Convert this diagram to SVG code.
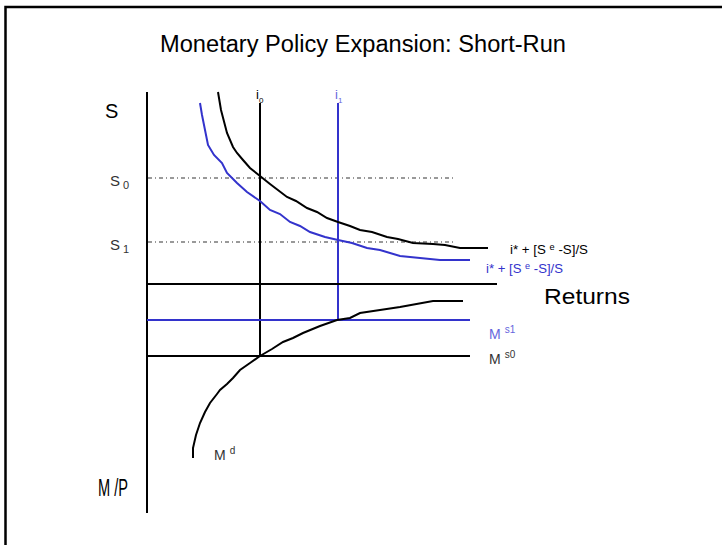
<svg xmlns="http://www.w3.org/2000/svg" width="722" height="545" viewBox="0 0 722 545">
<style>
text{font-family:"Liberation Sans",Arial,sans-serif}
.k{stroke:#000;stroke-width:2;fill:none}
.b{stroke:#3333cc;stroke-width:2;fill:none}
.d{stroke:#000;stroke-width:1;stroke-dasharray:4 3 1 3;fill:none;opacity:0.8}
.bt{fill:#3333cc}
.gt{fill:#333}
.bl{fill:#6666dd}
</style>
<rect x="0" y="0" width="722" height="545" fill="#fff"/>
<path d="M5.5 545 V7 H722" stroke="#000" stroke-width="2.5" fill="none"/>
<text x="363" y="52" font-size="23" text-anchor="middle" textLength="406" lengthAdjust="spacingAndGlyphs">Monetary Policy Expansion: Short-Run</text>
<g id="axes">
<line class="k" x1="147" y1="92" x2="147" y2="513"/>
<text x="105" y="118" font-size="20">S</text>
<text x="98" y="496" font-size="23" textLength="30" lengthAdjust="spacingAndGlyphs">M /P</text>
</g>
<g id="connectors">
<line class="d" x1="148" y1="178" x2="453" y2="178"/>
<line class="d" x1="148" y1="242" x2="453" y2="242"/>
<line class="k" x1="260" y1="103" x2="260" y2="356"/>
<line class="b" x1="338" y1="103" x2="338" y2="320"/>
<line class="k" x1="147" y1="284" x2="497" y2="284"/>
<line class="b" x1="147" y1="320" x2="470" y2="320"/>
<line class="k" x1="147" y1="356" x2="470" y2="356"/>
</g>
<g id="i0">
<text x="256" y="99" font-size="13">i<tspan font-size="8" dy="4">0</tspan></text>
</g>
<g id="i1">
<text x="335" y="99" font-size="13" class="bl">i<tspan font-size="8" dy="4">1</tspan></text>
</g>
<g id="S0"><text x="110" y="186" font-size="15" class="gt">S<tspan font-size="11" dx="3" dy="3">0</tspan></text></g>
<g id="S1"><text x="110" y="250" font-size="15" class="gt">S<tspan font-size="11" dx="3" dy="3">1</tspan></text></g>
<g id="returns0">
<polyline class="k" points="218,92 221,110 227,133 233,147 237,153 243,160 250,168 260,176 270,184 287,197 296,201 307,208 317,212 327,218 338,222 350,226 360,230 372,232 387,237 398,239 413,243 433,244 445,245 460,248 488,248"/>
<text x="510" y="254" font-size="13" textLength="78" lengthAdjust="spacingAndGlyphs">i* + [S <tspan font-size="9" dy="-4">e</tspan><tspan dy="4"> -S]/S</tspan></text>
</g>
<g id="returns1">
<polyline class="b" points="200,103 202,115 208,145 214,155 222,163 227,173 237,183 247,192 260,201 270,210 280,214 290,222 300,226 310,232 325,237 338,240 352,243 367,248 380,250 400,256 420,258 440,260 470,260"/>
<text x="486" y="273" font-size="13" class="bt" textLength="77" lengthAdjust="spacingAndGlyphs">i* + [S <tspan font-size="9" dy="-4">e</tspan><tspan dy="4"> -S]/S</tspan></text>
</g>
<g id="Returns"><text x="544" y="304" font-size="22" textLength="86" lengthAdjust="spacingAndGlyphs">Returns</text></g>
<g id="Md">
<polyline class="k" points="193,458 193,448 196,435 200,423 205,412 210,403 217,394 220,390 227,384 233,378 240,370 250,363 260,356 272,349 283,342 293,338 303,333 320,326 337,320 350,318 360,313 380,310 400,307 433,301 463,301"/>
<text x="214" y="460" font-size="14" class="gt">M<tspan font-size="10" dx="4" dy="-6">d</tspan></text>
</g>
<g id="Ms1"><text x="489" y="339" font-size="14" class="bl">M<tspan font-size="10" dx="4" dy="-6">s1</tspan></text></g>
<g id="Ms0"><text x="489" y="364" font-size="14" class="gt">M<tspan font-size="10" dx="4" dy="-6">s0</tspan></text></g>
</svg>
